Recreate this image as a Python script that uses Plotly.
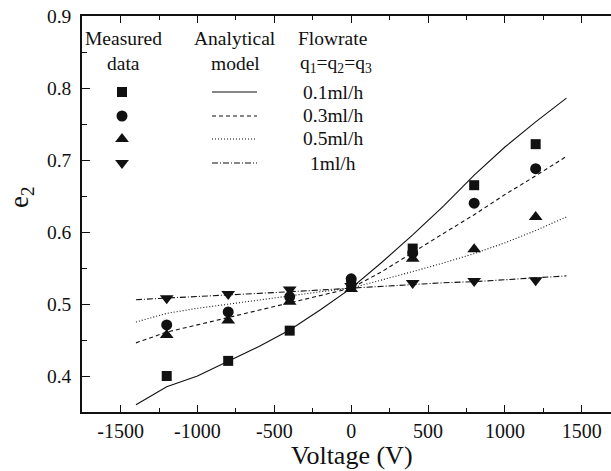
import plotly.graph_objects as go

# ---- data ----
voltage_meas = [-1200, -800, -400, 0, 400, 800, 1200]
meas_01 = [0.400, 0.421, 0.463, 0.528, 0.577, 0.665, 0.722]
meas_03 = [0.471, 0.489, 0.510, 0.535, 0.571, 0.640, 0.688]
meas_05 = [0.457, 0.477, 0.503, 0.521, 0.563, 0.576, 0.621]
meas_1 = [0.508, 0.514, 0.520, 0.525, 0.529, 0.532, 0.533]

voltage_model = [-1400, -1200, -1000, -800, -600, -400, -200, 0, 200, 400, 600, 800, 1000, 1200, 1400]
model_01 = [0.360, 0.385, 0.400, 0.420, 0.441, 0.464, 0.492, 0.522, 0.558, 0.596, 0.636, 0.679, 0.718, 0.753, 0.786]
model_03 = [0.446, 0.461, 0.471, 0.481, 0.491, 0.501, 0.511, 0.522, 0.545, 0.572, 0.598, 0.624, 0.652, 0.678, 0.705]
model_05 = [0.475, 0.487, 0.494, 0.500, 0.506, 0.512, 0.517, 0.522, 0.533, 0.545, 0.557, 0.570, 0.585, 0.602, 0.621]
model_1 = [0.506, 0.508, 0.510, 0.5125, 0.515, 0.517, 0.5195, 0.522, 0.525, 0.528, 0.5295, 0.531, 0.534, 0.536, 0.539]

flow_labels = ["0.1ml/h", "0.3ml/h", "0.5ml/h", "1ml/h"]
symbols = ["square", "circle", "triangle-up", "triangle-down"]
marker_sizes = [10, 11, 12, 12]
dashes = ["solid", "4px,3px", "1px,2px", "6px,2px,1px,2px"]

x_ticks = [-1500, -1000, -500, 0, 500, 1000, 1500]
y_ticks = [0.4, 0.5, 0.6, 0.7, 0.8, 0.9]

FONT = "Liberation Serif"
INK = "#111111"

W, H = 611, 471
L, T, R, B = 82, 16, 0, 59
pw, ph = W - L - R, H - T - B


def fx(px):
    return (px - L) / pw


def fy(py):
    return (H - B - py) / ph


fig = go.Figure()

meas_sets = [meas_01, meas_03, meas_05, meas_1]
model_sets = [model_01, model_03, model_05, model_1]

for i in range(4):
    fig.add_trace(go.Scatter(
        x=voltage_model, y=model_sets[i], mode="lines",
        line=dict(color=INK, width=1.1, dash=dashes[i]),
        showlegend=False, hoverinfo="skip"))
for i in range(4):
    fig.add_trace(go.Scatter(
        x=voltage_meas, y=meas_sets[i], mode="markers",
        marker=dict(symbol=symbols[i], size=marker_sizes[i], color=INK,
                    line=dict(width=0)),
        showlegend=False))

# ---- custom legend (on overlay axes in plot-area fractions) ----
row_y = [92, 116, 139, 163]
for i in range(4):
    yy = fy(row_y[i])
    fig.add_trace(go.Scatter(
        x=[fx(122)], y=[yy], mode="markers", xaxis="x2", yaxis="y2",
        marker=dict(symbol=symbols[i], size=marker_sizes[i], color=INK, line=dict(width=0)),
        showlegend=False, hoverinfo="skip"))
    fig.add_trace(go.Scatter(
        x=[fx(212), fx(257)], y=[yy, yy], mode="lines", xaxis="x2", yaxis="y2",
        line=dict(color=INK, width=1.1, dash=dashes[i]),
        showlegend=False, hoverinfo="skip"))
    fig.add_annotation(x=fx(333), y=fy(row_y[i]), xref="paper", yref="paper",
                       text=flow_labels[i], showarrow=False,
                       font=dict(family=FONT, size=19.5, color=INK),
                       xanchor="center", yanchor="middle")

headers = [
    (123, 38, "Measured"), (123, 63, "data"),
    (235, 38, "Analytical"), (235, 63, "model"),
    (332, 38, "Flowrate"), (336, 64, "q<sub>1</sub>=q<sub>2</sub>=q<sub>3</sub>"),
]
for hx, hy, txt in headers:
    fig.add_annotation(x=fx(hx), y=fy(hy), xref="paper", yref="paper",
                       text=txt, showarrow=False,
                       font=dict(family=FONT, size=19.5, color=INK),
                       xanchor="center", yanchor="middle")

# axis titles
fig.add_annotation(x=fx(352), y=fy(455), xref="paper", yref="paper",
                   text="Voltage (V)", showarrow=False,
                   font=dict(family=FONT, size=26, color=INK),
                   xanchor="center", yanchor="middle")
fig.add_annotation(x=fx(21), y=fy(198), xref="paper", yref="paper",
                   text="e<sub>2</sub>", showarrow=False, textangle=-90,
                   font=dict(family=FONT, size=27, color=INK),
                   xanchor="center", yanchor="middle")

fig.update_layout(
    width=W, height=H,
    margin=dict(l=L, r=R, t=T, b=B),
    paper_bgcolor="white", plot_bgcolor="white",
    font=dict(family=FONT, size=19, color=INK),
    xaxis=dict(range=[-1751, 1690], tickvals=x_ticks, ticktext=[str(v) for v in x_ticks],
               ticks="inside", ticklen=7, tickwidth=1.3, tickcolor=INK,
               minor=dict(ticks="inside", ticklen=4, tickwidth=1.3, tickcolor=INK, dtick=250,
                          tick0=-1750),
               showline=True, linecolor=INK, linewidth=1.6, mirror="ticks",
               showgrid=False, zeroline=False,
               tickfont=dict(family=FONT, size=20, color=INK)),
    yaxis=dict(range=[0.35, 0.9], tickvals=y_ticks, ticktext=[f"{v:.1f}" for v in y_ticks],
               ticks="inside", ticklen=8, tickwidth=1.3, tickcolor=INK,
               minor=dict(ticks="inside", ticklen=5, tickwidth=1.3, tickcolor=INK, dtick=0.05,
                          tick0=0.35),
               showline=True, linecolor=INK, linewidth=1.6, mirror=False,
               showgrid=False, zeroline=False, ticklabelstandoff=5,
               tickfont=dict(family=FONT, size=19.5, color=INK)),
    xaxis2=dict(overlaying="x", range=[0, 1], visible=False, fixedrange=True),
    yaxis2=dict(overlaying="y", range=[0, 1], visible=False, fixedrange=True),
    showlegend=False,
)

fig.write_html("out.html")
